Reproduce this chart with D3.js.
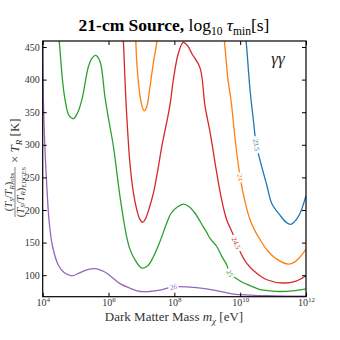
<!DOCTYPE html>
<html><head><meta charset="utf-8">
<script src="https://cdn.jsdelivr.net/npm/d3@7"></script>
<style>
html,body{margin:0;padding:0;background:#fff;}
svg{display:block;}
text{font-family:"Liberation Serif","Times New Roman",serif;}
</style></head>
<body><svg id="c" width="340" height="340"></svg>
<script>
// ---- data (x = log10 of dark matter mass in eV, y = T value in K) ----
const levels = ["23.5", "24", "24.5", "25", "26"];
const levelColors = ["#1f77b4", "#ff7f0e", "#d62728", "#2ca02c", "#9467bd"];
const xTickExps = [4, 6, 8, 10, 12];
const yTicks = [100, 150, 200, 250, 300, 350, 400, 450];

const contour23_5 = [[10.14,475],[10.18,459],[10.3,384],[10.4,338],[10.49,300],[10.61,275],[10.81,238],[10.96,210],[11.21,192],[11.4,181],[11.54,178],[11.7,185],[11.82,195],[12.0,222]];
const contour24a = [[6.82,475],[6.83,459],[6.86,425],[6.96,374],[7.04,356],[7.09,352],[7.16,358],[7.26,389],[7.36,425],[7.47,459],[7.49,475]];
const contour24b = [[9.48,475],[9.52,459],[9.63,400],[9.73,365],[9.85,307],[10.0,250],[10.15,212],[10.3,185],[10.45,168],[10.6,155],[10.81,139],[11.1,125],[11.47,117],[11.65,120],[11.82,128],[12.0,140]];
const contour24_5 = [[6.42,475],[6.45,459],[6.5,400],[6.55,348],[6.65,272],[6.76,225],[6.86,200],[6.95,186],[7.04,181],[7.12,186],[7.22,200],[7.36,225],[7.5,262],[7.62,298],[7.75,330],[7.87,362],[7.97,400],[8.12,440],[8.27,457],[8.4,452],[8.53,440],[8.78,418],[8.93,360],[9.09,318],[9.29,256],[9.44,215],[9.59,185],[9.79,162],[9.88,149],[10.2,118],[10.5,103],[10.81,93],[11.31,88],[11.7,91],[12.0,99]];
const contour25 = [[4.45,475],[4.5,459],[4.6,400],[4.68,369],[4.8,345],[4.93,340],[5.05,348],[5.19,369],[5.39,420],[5.5,433],[5.61,437],[5.74,428],[5.89,374],[6.0,340],[6.15,297],[6.35,220],[6.55,159],[6.65,140],[6.81,123],[7.01,111],[7.2,115],[7.36,128],[7.55,150],[7.77,180],[7.9,195],[8.1,205],[8.27,209],[8.45,205],[8.63,195],[8.88,174],[8.98,166],[9.09,156],[9.29,144],[9.45,128],[9.59,116],[9.69,103],[10.0,91],[10.3,84],[10.6,78],[10.9,76],[11.21,75],[11.6,76],[12.0,79]];
const contour26 = [[4.0,480],[4.02,370],[4.05,318],[4.12,241],[4.2,180],[4.3,144],[4.47,116],[4.65,104],[4.88,99],[5.1,103],[5.34,108],[5.59,110],[5.8,107],[5.95,103],[6.15,95],[6.35,87],[6.65,80],[6.96,75],[7.25,75],[7.56,77],[7.97,82],[8.38,82],[8.8,80],[9.19,77],[9.5,74],[9.8,71],[10.3,69.5],[10.81,68.5],[11.4,68],[12.0,68]];

const contourLines = [
  {level: 0, pts: contour23_5, labelAt: 10.49},
  {level: 1, pts: contour24a, labelAt: null},
  {level: 1, pts: contour24b, labelAt: 10.0},
  {level: 2, pts: contour24_5, labelAt: 9.88},
  {level: 3, pts: contour25, labelAt: 9.69},
  {level: 4, pts: contour26, labelAt: 7.97}
];

// ---- layout ----
const svg = d3.select("#c");
const L = 42.7, R = 306, T = 41, B = 296.7;
const x = d3.scaleLog().domain([1e4, 1e12]).range([L, R]);
const y = d3.scaleLinear().domain([67, 459.2]).range([B, T]);
const px = lm => x(Math.pow(10, lm));

svg.append("defs").append("clipPath").attr("id", "clip")
  .append("rect").attr("x", L).attr("y", T).attr("width", R - L).attr("height", B - T);

const gPlot = svg.append("g").attr("clip-path", "url(#clip)");
const line = d3.line().x(d => px(d[0])).y(d => y(d[1])).curve(d3.curveCatmullRom.alpha(0.5));

function interp(pts, lm) {
  for (let i = 0; i < pts.length - 1; i++) {
    if (lm >= pts[i][0] && lm <= pts[i + 1][0]) {
      const t = (lm - pts[i][0]) / (pts[i + 1][0] - pts[i][0]);
      return pts[i][1] + t * (pts[i + 1][1] - pts[i][1]);
    }
  }
  return pts[pts.length - 1][1];
}

contourLines.forEach(c => {
  gPlot.append("path").attr("d", line(c.pts)).attr("fill", "none")
    .attr("stroke", levelColors[c.level]).attr("stroke-width", 1.3);
});

contourLines.forEach(c => {
  if (c.labelAt == null) return;
  const lm = c.labelAt;
  const cx = px(lm), cy = y(interp(c.pts, lm));
  const x1 = px(lm - 0.04), y1 = y(interp(c.pts, lm - 0.04));
  const x2 = px(lm + 0.04), y2 = y(interp(c.pts, lm + 0.04));
  const ang = Math.atan2(y2 - y1, x2 - x1) * 180 / Math.PI;
  const g = gPlot.append("g").attr("transform", `translate(${cx},${cy}) rotate(${ang})`);
  const txt = levels[c.level];
  const w = txt.length * 3.6 + 3;
  g.append("rect").attr("x", -w / 2).attr("y", -3.5).attr("width", w).attr("height", 7).attr("fill", "#fff");
  g.append("text").attr("text-anchor", "middle").attr("dy", "0.35em")
    .attr("font-size", 7).attr("fill", levelColors[c.level]).text(txt);
});

// ---- axes ----
function supFmt(sel) {
  sel.selectAll(".tick text").each(function (d) {
    const t = d3.select(this).text(null);
    t.append("tspan").text("10");
    t.append("tspan").attr("dy", -3.5).attr("font-size", 7).text(Math.round(Math.log10(d)));
  });
}
const xVals = xTickExps.map(e => Math.pow(10, e));
const gxb = svg.append("g").attr("transform", `translate(0,${B})`)
  .call(d3.axisBottom(x).tickValues(xVals).tickSizeInner(-4).tickSizeOuter(0).tickPadding(2));
supFmt(gxb);
const gxt = svg.append("g").attr("transform", `translate(0,${T})`)
  .call(d3.axisTop(x).tickValues(xVals).tickSizeInner(-4).tickSizeOuter(0).tickFormat(""));
const gyl = svg.append("g").attr("transform", `translate(${L},0)`)
  .call(d3.axisLeft(y).tickValues(yTicks).tickSizeInner(-4).tickSizeOuter(0).tickPadding(3));
const gyr = svg.append("g").attr("transform", `translate(${R},0)`)
  .call(d3.axisRight(y).tickValues(yTicks).tickSizeInner(-4).tickSizeOuter(0).tickFormat(""));
[gxb, gxt, gyl, gyr].forEach(g => {
  g.select(".domain").remove();
  g.selectAll(".tick line").attr("stroke", "#000").attr("stroke-width", 1);
  g.selectAll(".tick text").attr("font-family", "Liberation Serif, serif").attr("font-size", 10).attr("fill", "#333");
});
svg.append("rect").attr("x", L).attr("y", T).attr("width", R - L).attr("height", B - T)
  .attr("fill", "none").attr("stroke", "#000").attr("stroke-width", 1.2);

// ---- title ----
const title = svg.append("text").attr("x", 174).attr("y", 31).attr("text-anchor", "middle")
  .attr("font-size", 17.5).attr("fill", "#000");
title.append("tspan").attr("font-weight", "bold").text("21-cm Source, ");
title.append("tspan").text("log");
title.append("tspan").attr("font-size", 11.5).attr("dy", 4).text("10");
title.append("tspan").attr("dy", -4).attr("font-style", "italic").text(" τ");
title.append("tspan").attr("font-size", 11.5).attr("dy", 4).text("min");
title.append("tspan").attr("dy", -4).text("[s]");

// gamma gamma label
svg.append("text").attr("x", 278).attr("y", 64).attr("text-anchor", "middle")
  .attr("font-size", 17).attr("font-style", "italic").attr("fill", "#222").text("γγ");

// ---- x label ----
const xl = svg.append("text").attr("x", 174).attr("y", 321).attr("text-anchor", "middle")
  .attr("font-size", 13).attr("fill", "#333");
xl.append("tspan").text("Dark Matter Mass ");
xl.append("tspan").attr("font-style", "italic").text("m");
xl.append("tspan").attr("font-style", "italic").attr("font-size", 9).attr("dy", 3).text("χ");
xl.append("tspan").attr("dy", -3).text(" [eV]");

// ---- y label (fraction) ----
const yl = svg.append("g").attr("transform", "translate(15,192) rotate(-90)").attr("fill", "#333");
function ratio(sel, sub) {
  sel.append("tspan").text("(");
  sel.append("tspan").attr("font-style", "italic").text("T");
  sel.append("tspan").attr("font-style", "italic").attr("font-size", 7).attr("dy", 1.8).text("S");
  sel.append("tspan").attr("dy", -1.8).text("/");
  sel.append("tspan").attr("font-style", "italic").text("T");
  sel.append("tspan").attr("font-style", "italic").attr("font-size", 7).attr("dy", 1.8).text("R");
  sel.append("tspan").attr("dy", -1.8).text(")");
  sel.append("tspan").attr("font-size", 6.5).attr("dy", 2.2).text(sub);
}
ratio(yl.append("text").attr("x", 0).attr("y", -3).attr("text-anchor", "middle").attr("font-size", 10.5), "obs");
yl.append("line").attr("x1", -25).attr("x2", 25).attr("y1", 0).attr("y2", 0).attr("stroke", "#333").attr("stroke-width", 0.6);
ratio(yl.append("text").attr("x", 0).attr("y", 8.5).attr("text-anchor", "middle").attr("font-size", 10.5), "EDGES");
const rest = yl.append("text").attr("x", 29).attr("y", 4).attr("font-size", 13);
rest.append("tspan").text("× ");
rest.append("tspan").attr("font-style", "italic").text("T");
rest.append("tspan").attr("font-style", "italic").attr("font-size", 9).attr("dy", 3).text("R");
rest.append("tspan").attr("dy", -3).text(" [K]");
</script></body></html>
